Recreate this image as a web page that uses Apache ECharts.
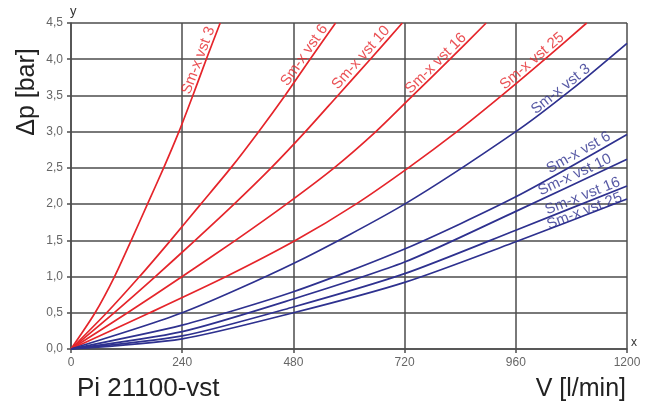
<!DOCTYPE html>
<html><head><meta charset="utf-8">
<script src="https://cdn.jsdelivr.net/npm/echarts@6/dist/echarts.min.js"></script>
<style>html,body{margin:0;padding:0;background:#fff}#c{width:646px;height:410px}</style>
</head><body><div id="c"></div>
<script>
// ---- data ----
const xTicks = [0, 240, 480, 720, 960, 1200];
const yTicks = [0, 0.5, 1, 1.5, 2, 2.5, 3, 3.5, 4, 4.5];
const curveNames = ['Sm-x vst 3', 'Sm-x vst 6', 'Sm-x vst 10', 'Sm-x vst 16', 'Sm-x vst 25'];

// red family  [V l/min, Δp bar]
const red3  = [[0,0],[52,0.5],[94,1.0],[130,1.5],[165,2.0],[200,2.5],[233,3.0],[263,3.5],[292,4.0],[322,4.5]];
const red6  = [[0,0],[77,0.5],[148,1.0],[215,1.5],[280,2.0],[345,2.5],[405,3.0],[462,3.5],[516,4.0],[571,4.5]];
const red10 = [[0,0],[93,0.5],[182,1.0],[268,1.5],[352,2.0],[432,2.5],[506,3.0],[576,3.5],[646,4.0],[715,4.5]];
const red16 = [[0,0],[122,0.5],[240,1.0],[355,1.5],[465,2.0],[568,2.5],[658,3.0],[738,3.5],[818,4.0],[896,4.5]];
const red25 = [[0,0],[170,0.5],[335,1.0],[485,1.5],[615,2.0],[728,2.5],[833,3.0],[930,3.5],[1023,4.0],[1113,4.5]];

// blue family
const blue3  = [[0,0],[240,0.50],[480,1.18],[720,2.0],[960,3.0],[1080,3.58],[1200,4.22]];
const blue6  = [[0,0],[240,0.33],[480,0.79],[720,1.38],[960,2.10],[1200,2.96]];
const blue10 = [[0,0],[240,0.24],[480,0.69],[720,1.20],[960,1.90],[1200,2.62]];
const blue16 = [[0,0],[240,0.18],[480,0.58],[720,1.04],[960,1.64],[1200,2.25]];
const blue25 = [[0,0],[240,0.14],[480,0.50],[720,0.92],[960,1.48],[1200,2.07]];

// ---- styling ----
const RED = '#e5252b';
const BLUE = '#2e318f';
const GRIDC = '#4d4d4d';

const curves = [
  {name: curveNames[0], data: red3,  color: RED,  idx: 8, off: [-4, -7]},
  {name: curveNames[1], data: red6,  color: RED,  idx: 8, off: [0, -7]},
  {name: curveNames[2], data: red10, color: RED,  idx: 8, off: [-5, -8]},
  {name: curveNames[3], data: red16, color: RED,  idx: 8, off: [-13, -7]},
  {name: curveNames[4], data: red25, color: RED,  idx: 8, off: [-11, -7]},
  {name: curveNames[0], data: blue3,  color: BLUE, idx: 5, off: [-8, -7]},
  {name: curveNames[1], data: blue6,  color: BLUE, idx: 5, off: [-51, -8]},
  {name: curveNames[2], data: blue10, color: BLUE, idx: 5, off: [-54, -8]},
  {name: curveNames[3], data: blue16, color: BLUE, idx: 5, off: [-45, -7]},
  {name: curveNames[4], data: blue25, color: BLUE, idx: 5, off: [-44, -4]}
];

const chart = echarts.init(document.getElementById('c'), null, {renderer: 'canvas'});

const fmt = v => v.toFixed(1).replace('.', ',');

const lineSeries = curves.map((c, i) => ({
  type: 'line',
  name: c.name + '_' + i,
  data: c.data,
  smooth: 0.25,
  showSymbol: false,
  silent: true,
  clip: true,
  lineStyle: {color: c.color, width: 1.7},
  z: 3
}));

const baseOption = {
  animation: false,
  backgroundColor: '#ffffff',
  grid: {left: 71, right: 19, top: 23, bottom: 61, containLabel: false, outerBoundsMode: 'none'},
  xAxis: {
    type: 'value',
    min: xTicks[0], max: xTicks[xTicks.length - 1], interval: xTicks[1] - xTicks[0],
    name: 'x', nameLocation: 'end', nameGap: 4,
    nameTextStyle: {color: '#333', fontSize: 12, fontFamily: 'Liberation Sans', verticalAlign: 'bottom'},
    axisLine: {show: true, onZero: false, lineStyle: {color: GRIDC, width: 1.5}},
    axisTick: {show: true, length: 4, lineStyle: {color: GRIDC, width: 1.5}},
    splitLine: {show: true, lineStyle: {color: GRIDC, width: 1.5}},
    axisLabel: {color: '#666', fontSize: 12, fontFamily: 'Liberation Sans', margin: 8, formatter: v => String(v)}
  },
  yAxis: {
    type: 'value',
    min: yTicks[0], max: yTicks[yTicks.length - 1], interval: yTicks[1] - yTicks[0],
    name: 'y', nameLocation: 'end', nameGap: 5,
    nameTextStyle: {color: '#333', fontSize: 13, fontFamily: 'Liberation Sans', align: 'left', padding: [0, 0, 0, -1]},
    axisLine: {show: true, onZero: false, lineStyle: {color: GRIDC, width: 1.5}},
    axisTick: {show: true, length: 4, lineStyle: {color: GRIDC, width: 1.5}},
    splitLine: {show: true, lineStyle: {color: GRIDC, width: 1.5}},
    axisLabel: {color: '#666', fontSize: 12, fontFamily: 'Liberation Sans', margin: 8, formatter: fmt}
  },
  graphic: [
    {type: 'text', x: 27, y: 92, rotation: Math.PI / 2,
     style: {text: 'Δp [bar]', fill: '#222', font: '25px "Liberation Sans"', align: 'center', verticalAlign: 'middle'}},
    {type: 'text', x: 77, y: 389,
     style: {text: 'Pi 21100-vst', fill: '#222', font: '26px "Liberation Sans"', align: 'left', verticalAlign: 'middle'}},
    {type: 'text', x: 626, y: 389,
     style: {text: 'V [l/min]', fill: '#222', font: '25px "Liberation Sans"', align: 'right', verticalAlign: 'middle'}}
  ],
  series: lineSeries
};

chart.setOption(baseOption);

// label series: angle taken from the curve through the axes
const labelSeries = curves.map((c, i) => {
  const a = Math.max(0, c.idx - 1);
  const b = Math.min(c.data.length - 1, c.idx + 1);
  const p1 = chart.convertToPixel({gridIndex: 0}, c.data[a]);
  const p2 = chart.convertToPixel({gridIndex: 0}, c.data[b]);
  const ang = Math.atan2(-(p2[1] - p1[1]), p2[0] - p1[0]) * 180 / Math.PI;
  return {
    type: 'scatter',
    name: 'lbl_' + i,
    silent: true,
    symbolSize: 1,
    itemStyle: {color: 'rgba(0,0,0,0)'},
    data: [c.data[c.idx]],
    z: 5,
    label: {
      show: true,
      position: 'inside',
      formatter: c.name,
      rotate: ang,
      offset: c.off,
      align: 'center',
      verticalAlign: 'middle',
      color: c.color,
      fontSize: 15,
      fontFamily: 'Liberation Sans'
    }
  };
});

chart.setOption({series: lineSeries.concat(labelSeries)});
</script>
</body></html>
